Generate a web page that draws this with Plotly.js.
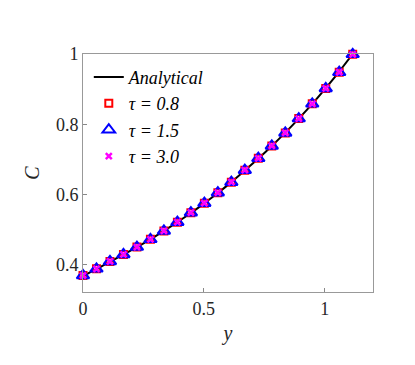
<!DOCTYPE html>
<html>
<head>
<meta charset="utf-8">
<script src="https://cdn.plot.ly/plotly-3.0.1.min.js"></script>
<style>
  html, body { margin: 0; padding: 0; background: #fff; }
  #plot { width: 415px; height: 365px; }
</style>
</head>
<body>
<div id="plot"></div>
<script>
// positions along y
var yPos = [0, 0.0558, 0.1116, 0.1674, 0.2232, 0.279, 0.3348, 0.3906, 0.4464, 0.5022,
  0.558, 0.6138, 0.6696, 0.7254, 0.7812, 0.837, 0.8928, 0.9486, 1.0044, 1.0602, 1.116];

// concentration values
var cAnalytical = [0.368, 0.387, 0.408, 0.429, 0.450, 0.472, 0.496, 0.521, 0.547, 0.575,
  0.604, 0.635, 0.668, 0.702, 0.738, 0.776, 0.816, 0.858, 0.903, 0.950, 1.0];
var cTau08 = [0.369, 0.388, 0.409, 0.429, 0.450, 0.472, 0.496, 0.521, 0.548, 0.575,
  0.605, 0.635, 0.669, 0.703, 0.738, 0.775, 0.816, 0.858, 0.902, 0.948, 0.999];
var cTau15 = [0.369, 0.388, 0.409, 0.429, 0.450, 0.472, 0.496, 0.521, 0.548, 0.575,
  0.605, 0.635, 0.669, 0.703, 0.738, 0.775, 0.816, 0.858, 0.902, 0.948, 0.999];
var cTau30 = [0.369, 0.388, 0.409, 0.429, 0.450, 0.472, 0.496, 0.521, 0.548, 0.575,
  0.605, 0.635, 0.669, 0.703, 0.738, 0.775, 0.816, 0.858, 0.902, 0.948, 0.999];

var serif = "Times New Roman";

var traces = [
  {
    x: yPos, y: cAnalytical, name: "<i>Analytical</i>",
    mode: "lines", line: { color: "#000", width: 2, shape: "spline" },
    cliponaxis: false
  },
  {
    x: yPos, y: cTau08, name: "<i>τ = 0.8</i>",
    mode: "markers", cliponaxis: false,
    marker: { symbol: "square-open", size: 7, color: "#ff0000", line: { width: 2 } }
  },
  {
    x: yPos, y: cTau15, name: "<i>τ = 1.5</i>",
    mode: "markers", cliponaxis: false,
    marker: { symbol: "triangle-up-open", size: 11, color: "#0000ff", line: { width: 2 } }
  },
  {
    x: yPos, y: cTau30, name: "<i>τ = 3.0</i>",
    mode: "markers", cliponaxis: false,
    marker: { symbol: "x-thin-open", size: 6, color: "#ff00ff", line: { width: 2.5, color: "#ff00ff" } }
  }
];

var layout = {
  width: 415, height: 365,
  margin: { l: 83, r: 42, t: 54, b: 73 },
  paper_bgcolor: "#fff", plot_bgcolor: "#fff",
  font: { family: serif, size: 18, color: "#262626" },
  showlegend: true,
  legend: {
    x: 0.02, y: 0.98, xanchor: "left", yanchor: "top",
    bgcolor: "rgba(0,0,0,0)", borderwidth: 0,
    font: { family: serif, size: 18, color: "#000" },
    tracegroupgap: 0
  },
  xaxis: {
    range: [0, 1.2],
    tickvals: [0, 0.5, 1], ticktext: ["0", "0.5", "1"],
    ticks: "inside", ticklen: 4, tickcolor: "#888",
    showline: true, mirror: true, linecolor: "#999", linewidth: 1,
    showgrid: false, zeroline: false,
    tickfont: { family: serif, size: 18, color: "#262626" },
    title: { text: "<i>y</i>", font: { family: serif, size: 20, color: "#262626" }, standoff: 8 }
  },
  yaxis: {
    range: [0.322, 1],
    tickvals: [0.4, 0.6, 0.8, 1], ticktext: ["0.4", "0.6", "0.8", "1"],
    ticks: "inside", ticklen: 4, tickcolor: "#888",
    showline: true, mirror: true, linecolor: "#999", linewidth: 1,
    showgrid: false, zeroline: false,
    tickfont: { family: serif, size: 18, color: "#262626" },
    title: { text: "<i>C</i>", font: { family: serif, size: 20, color: "#262626" }, standoff: 10 }
  }
};

Plotly.newPlot("plot", traces, layout, { displayModeBar: false, staticPlot: true });
</script>
</body>
</html>
